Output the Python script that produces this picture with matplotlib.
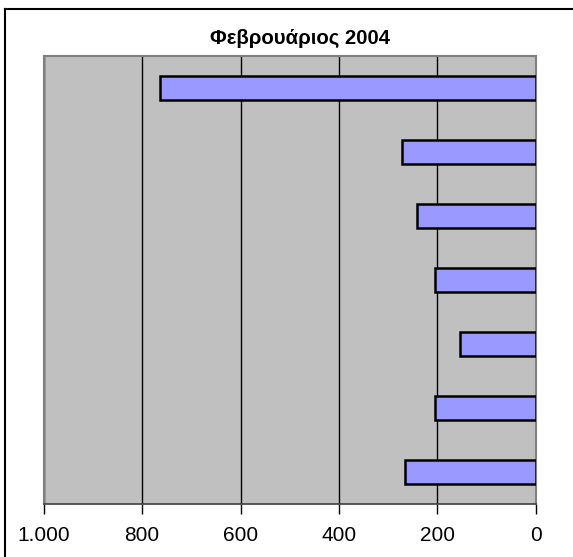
import matplotlib
matplotlib.use("Agg")
import matplotlib.pyplot as plt
from matplotlib.lines import Line2D

title = "Φεβρουάριος 2004"
categories = ["1", "2", "3", "4", "5", "6", "7"]
values = [764, 272, 242, 205, 154, 204, 265]
xticks = [1000, 800, 600, 400, 200, 0]
xtick_labels = ["1.000", "800", "600", "400", "200", "0"]

plt.rcParams['font.family'] = ['Liberation Sans', 'DejaVu Sans']

W, H = 573, 557
fig = plt.figure(figsize=(W / 100, H / 100), dpi=100)
fig.patch.set_facecolor("white")

# outer border (only left and top edges are inside the picture)
fig.add_artist(Line2D([5 / W, 5 / W], [0, 1 - 9 / H], transform=fig.transFigure,
                      color="black", linewidth=1.5))
fig.add_artist(Line2D([5 / W, 1], [1 - 9 / H, 1 - 9 / H], transform=fig.transFigure,
                      color="black", linewidth=1.5))

left, right, top, bottom = 43.7, 535.7, 56, 504
ax = fig.add_axes([left / W, 1 - bottom / H, (right - left) / W, (bottom - top) / H])
ax.set_facecolor("#C0C0C0")

pos = list(range(len(categories)))
ax.barh(pos, values, height=0.39, color="#9999FF", edgecolor="black",
        linewidth=1.8, zorder=3)

ax.set_xlim(1000, 0)
ax.set_ylim(len(categories) - 0.5, -0.5)
ax.set_xticks(xticks)
ax.set_xticklabels(xtick_labels, fontsize=15)
ax.set_yticks([])
ax.grid(axis="x", color="black", linewidth=1.0, zorder=1)
ax.set_axisbelow(True)

for s in ["top", "left", "right"]:
    ax.spines[s].set_color("#808080")
    ax.spines[s].set_linewidth(1.5)
ax.spines["bottom"].set_color("#404040")
ax.spines["bottom"].set_linewidth(1.2)
ax.tick_params(axis="x", length=7, width=1, color="black", pad=9)

fig.text(300 / W, 1 - 38.5 / H, title, ha="center", va="center",
         fontsize=14.7, fontweight="bold")

fig.savefig("out.png", dpi=100)
